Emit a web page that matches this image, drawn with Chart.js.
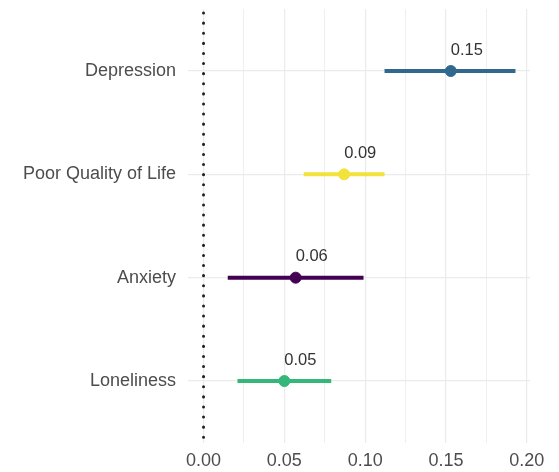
<!DOCTYPE html>
<html>
<head>
<meta charset="utf-8">
<script src="https://cdn.jsdelivr.net/npm/chart.js@4.4.1/dist/chart.umd.min.js"></script>
<style>
  body { margin: 0; background: #fff; }
</style>
</head>
<body>
<canvas id="forest" width="559" height="472"></canvas>
<script>
// bottom to top, like the picture
const categories = ["Loneliness", "Anxiety", "Poor Quality of Life", "Depression"];
const estimates = [0.050, 0.057, 0.087, 0.153];
const lower = [0.021, 0.015, 0.062, 0.112];
const upper = [0.079, 0.099, 0.112, 0.193];
const valueLabels = ["0.05", "0.06", "0.09", "0.15"];
const colors = ["#35B779", "#440154", "#F2E23A", "#31688E"];
const xTickLabels = [0, 0.05, 0.10, 0.15, 0.20];
const xGridLines = [0, 0.025, 0.05, 0.075, 0.10, 0.125, 0.15, 0.175, 0.20];

const FONT = "'Liberation Sans', Arial, sans-serif";

// one line dataset per confidence interval
const ciSets = categories.map((c, i) => ({
  type: "line",
  label: c,
  data: [{ x: lower[i], y: i + 1 }, { x: upper[i], y: i + 1 }],
  borderColor: colors[i],
  borderWidth: 4,
  borderCapStyle: "butt",
  pointRadius: 0,
  fill: false,
}));

const pointSet = {
  type: "scatter",
  label: "estimate",
  data: estimates.map((v, i) => ({ x: v, y: i + 1 })),
  pointBackgroundColor: colors,
  pointBorderColor: colors,
  pointRadius: 5.5,
};

// dotted reference line at 0
const zeroLine = {
  id: "zeroLine",
  beforeDatasetsDraw(chart) {
    const { ctx, chartArea, scales } = chart;
    const x = scales.x.getPixelForValue(0);
    ctx.save();
    ctx.strokeStyle = "#222";
    ctx.lineWidth = 3;
    ctx.lineCap = "round";
    ctx.setLineDash([0.1, 10]);
    ctx.beginPath();
    ctx.moveTo(x, chartArea.top + 4);
    ctx.lineTo(x, chartArea.bottom);
    ctx.stroke();
    ctx.restore();
  },
};

// value text above each point
const valueText = {
  id: "valueText",
  afterDatasetsDraw(chart) {
    const { ctx, scales } = chart;
    ctx.save();
    ctx.font = "16.5px " + FONT;
    ctx.fillStyle = "#333";
    ctx.textAlign = "left";
    ctx.textBaseline = "middle";
    estimates.forEach((v, i) => {
      const px = scales.x.getPixelForValue(v);
      const py = scales.y.getPixelForValue(i + 1);
      ctx.fillText(valueLabels[i], px, py - 21);
    });
    ctx.restore();
  },
};

new Chart(document.getElementById("forest"), {
  data: { datasets: [...ciSets, pointSet] },
  options: {
    responsive: false,
    animation: false,
    layout: { padding: { top: 9, right: 29, left: 0, bottom: 0 } },
    plugins: {
      legend: { display: false },
      tooltip: { enabled: false },
    },
    scales: {
      x: {
        type: "linear",
        min: -0.0096,
        max: 0.202,
        afterBuildTicks: (scale) => {
          scale.ticks = xGridLines.map((v) => ({ value: v }));
        },
        afterFit: (scale) => {
          scale.height = 29;
          scale.paddingLeft = 0;
          scale.paddingRight = 0;
        },
        ticks: {
          autoSkip: false,
          maxRotation: 0,
          padding: 7,
          color: "#4d4d4d",
          font: { family: FONT, size: 18 },
          callback: (value) =>
            xTickLabels.some((t) => Math.abs(t - value) < 1e-9) ? value.toFixed(2) : "",
        },
        grid: {
          color: "#ebebeb",
          lineWidth: (ctx) =>
            xTickLabels.some((t) => Math.abs(t - ctx.tick.value) < 1e-9) ? 1.2 : 0.8,
          drawTicks: false,
        },
        border: { display: false },
      },
      y: {
        type: "linear",
        min: 0.4,
        max: 4.6,
        afterBuildTicks: (scale) => {
          scale.ticks = categories.map((c, i) => ({ value: i + 1 }));
        },
        afterFit: (scale) => {
          scale.width = 188;
          scale.paddingTop = 0;
          scale.paddingBottom = 0;
        },
        ticks: {
          autoSkip: false,
          padding: 12,
          color: "#4d4d4d",
          font: { family: FONT, size: 18 },
          callback: (value) => categories[value - 1],
        },
        grid: {
          color: "#ebebeb",
          lineWidth: 1.2,
          drawTicks: false,
        },
        border: { display: false },
      },
    },
  },
  plugins: [zeroLine, valueText],
});
</script>
</body>
</html>
